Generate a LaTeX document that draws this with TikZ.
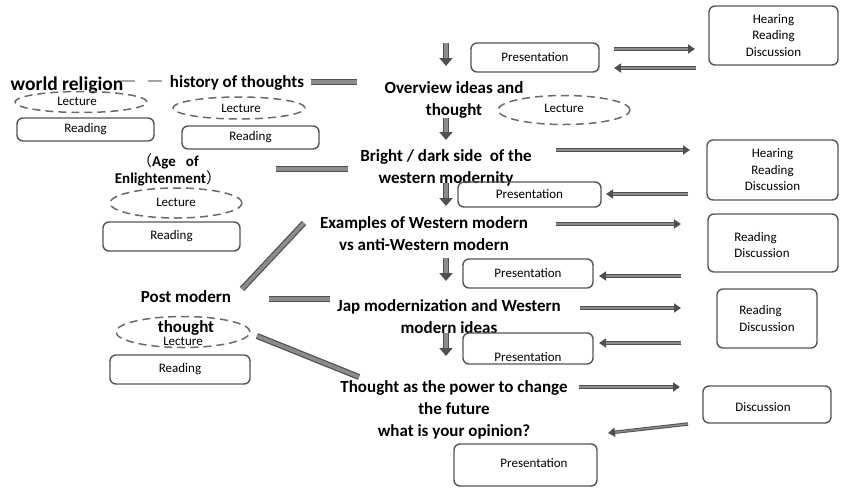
\documentclass[tikz,border=0pt]{standalone}
\usepackage{fontspec}
\setmainfont{Carlito}
\newfontfamily\cjkfont{Noto Sans CJK JP}
\usetikzlibrary{arrows.meta,shapes.geometric}
\definecolor{edge}{HTML}{555555}
\definecolor{arrowdark}{HTML}{505050}
\definecolor{arrowfill}{HTML}{8C8C8C}
\definecolor{dashgray}{HTML}{6A6A6A}
\definecolor{linkgray}{HTML}{A6A6A6}
\begin{document}
\begin{tikzpicture}[x=1pt,y=-1pt,
  box/.style={draw=edge, line width=1.4pt, rounded corners=6pt, inner sep=0pt, align=center, font=\fontsize{13}{16.5}\selectfont},
  lect/.style={ellipse, draw=dashgray, line width=1.5pt, dash pattern=on 8pt off 5pt, inner sep=0pt},
  small/.style={inner sep=0pt, align=center, font=\fontsize{13}{16.5}\selectfont},
  topic/.style={inner sep=0pt, align=center, font=\bfseries\fontsize{17}{22}\selectfont},
  flow/.style={draw=arrowdark, line width=3.4pt, -{Triangle[length=7pt,width=9pt]}, postaction={draw=arrowfill, line width=1.4pt, -, shorten >=7pt}},
  down/.style={draw=arrowdark, line width=6.5pt, -{Triangle[length=8pt,width=13pt]}, postaction={draw=arrowfill, line width=3.2pt, -, shorten >=8pt}},
  bar/.style={draw=arrowdark, line width=1.2pt, double=arrowfill, double distance=3.6pt},
]
\useasboundingbox (0,0) rectangle (841,488);

% ---------- central column of topics ----------
\node[topic] (over) at (454,100) {Overview ideas and\\thought};
\node[topic] (bright) at (446,168) {Bright / dark side\ \ of the\\western modernity};
\node[topic] (examples) at (424,233.5) {Examples of Western modern\\vs anti-Western modern};
\node[topic] (jap) at (449,316.5) {Jap modernization and Western\\modern ideas};
\node[topic] (power) at (454,409.5) {Thought as the power to change\\the future\\what is your opinion?};

% ---------- presentation boxes ----------
\node[box, minimum width=128pt, minimum height=29pt] (pres1) at (535,57.5) {Presentation};
\node[box, minimum width=143pt, minimum height=25pt] (pres2) at (529.5,194.5) {Presentation};
\node[box, minimum width=130pt, minimum height=29pt] (pres3) at (528,273.5) {Presentation};
\node[box, minimum width=130pt, minimum height=31pt] (pres4) at (528,348.5) {};
\node[small] (pres4t) at (528,357) {Presentation};
\node[box, minimum width=143pt, minimum height=42pt] (pres5) at (525.5,465) {};
\node[small] (pres5t) at (534,463) {Presentation};

% ---------- activity boxes on the right ----------
\node[box, minimum width=129pt, minimum height=59pt] (hrd1) at (773.5,35.5) {Hearing\\Reading\\Discussion};
\node[box, minimum width=131pt, minimum height=60pt] (hrd2) at (772.5,170) {Hearing\\Reading\\Discussion};
\node[box, minimum width=130pt, minimum height=58pt] (rd1) at (773,243) {};
\node[small, align=left] (rd1t) at (762,245) {Reading\\Discussion};
\node[box, minimum width=100pt, minimum height=59pt, align=left] (rd2) at (767,318.5) {Reading\\Discussion};
\node[box, minimum width=128pt, minimum height=37pt] (disc) at (767,404.5) {};
\node[small] (disct) at (763,407) {Discussion};

% ---------- left side: background themes ----------
\node[inner sep=0pt, font=\bfseries\fontsize{19.5}{22}\selectfont] (wr) at (67,85) {world religion};
\node[inner sep=0pt, font=\bfseries\fontsize{17}{20}\selectfont] (hist) at (237,83) {history of thoughts};
\node[inner sep=0pt, align=center, font=\bfseries\fontsize{15}{17}\selectfont] (age) at (168,170) {{\cjkfont\mdseries （}Age\ \ \ of\\Enlightenment{\cjkfont\mdseries ）}};
\node[topic] (post) at (186,313) {Post modern\\[8pt]thought};

\node[lect, minimum width=132pt, minimum height=21pt] (e1) at (81,102) {};
\node[small] (e1t) at (77,101) {Lecture};
\node[lect, minimum width=132pt, minimum height=22pt] (e2) at (239,108) {};
\node[small] (e2t) at (241,108) {Lecture};
\node[lect, minimum width=132pt, minimum height=29pt] (e3) at (564,110) {};
\node[small] (e3t) at (564,108) {Lecture};
\node[lect, minimum width=132pt, minimum height=30pt] (e4) at (176,203) {};
\node[small] (e4t) at (176,202) {Lecture};
\node[lect, minimum width=134pt, minimum height=31pt] (e5) at (183,332) {};
\node[small] (e5t) at (183,341) {Lecture};

\node[box, minimum width=137pt, minimum height=23pt] (read1) at (85.5,129.5) {Reading};
\node[box, minimum width=137pt, minimum height=23pt] (read2) at (250.5,137.5) {Reading};
\node[box, minimum width=137pt, minimum height=29pt] (read3) at (171.5,236.5) {Reading};
\node[box, minimum width=140pt, minimum height=29pt] (read4) at (180,369.5) {Reading};

% ---------- connector end points ----------
\coordinate (d1a) at (446,43);  \coordinate (d1b) at (446,66);
\coordinate (d2a) at (446,118); \coordinate (d2b) at (446,140);
\coordinate (d3a) at (446,183); \coordinate (d3b) at (446,206);
\coordinate (d4a) at (446,258); \coordinate (d4b) at (446,281);
\coordinate (d5a) at (446,333); \coordinate (d5b) at (446,356);

\coordinate (a1a) at (614,49);  \coordinate (a1b) at (695,49);
\coordinate (a2a) at (696,68);  \coordinate (a2b) at (614,68);
\coordinate (a3a) at (556,150); \coordinate (a3b) at (690,150);
\coordinate (a4a) at (688,194); \coordinate (a4b) at (606,194);
\coordinate (a5a) at (556,224); \coordinate (a5b) at (681,224);
\coordinate (a6a) at (681,276); \coordinate (a6b) at (599,276);
\coordinate (a7a) at (580,308); \coordinate (a7b) at (681,308);
\coordinate (a8a) at (681,343); \coordinate (a8b) at (599,343);
\coordinate (a9a) at (579,387); \coordinate (a9b) at (680,387);
\coordinate (a10a) at (688,424); \coordinate (a10b) at (608,433);

\coordinate (b1a) at (311,82);  \coordinate (b1b) at (357,82);
\coordinate (b2a) at (276,169); \coordinate (b2b) at (348,169);
\coordinate (b3a) at (304,223); \coordinate (b3b) at (242,289);
\coordinate (b4a) at (269,299); \coordinate (b4b) at (330,299);
\coordinate (b5a) at (257,336); \coordinate (b5b) at (359,377);

\coordinate (l1a) at (121,81);  \coordinate (l1b) at (170,81);

% ---------- connectors ----------
\draw[linkgray, line width=2.6pt, dash pattern=on 14pt off 13pt] (l1a) -- (l1b);

\foreach \i in {1,...,5} \draw[down] (d\i a) -- (d\i b);
\foreach \i in {1,...,10} \draw[flow] (a\i a) -- (a\i b);
\foreach \i in {1,...,5} \draw[bar] (b\i a) -- (b\i b);
\end{tikzpicture}
\end{document}
